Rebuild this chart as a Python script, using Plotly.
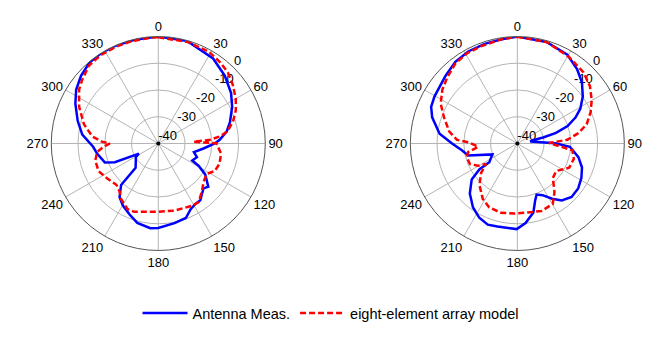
import plotly.graph_objects as go

# left pattern (angle in degrees, level in dB)
left_meas_theta = [0, 15.9, 32.8, 44.4, 55.3, 63.7, 73.7, 79.9, 86.6, 90, 96.3, 103.5, 109.5, 116.7,
                   119.0, 123.4, 130.8, 134.8, 143.5, 148.4, 153.8, 159.7, 168.5, 180, 185.4, 194.8,
                   202.2, 209.7, 215.9, 221.9, 223.1, 238.8, 242.3, 246.6, 250.5, 260.6, 267.1, 276.6,
                   285.7, 295.7, 303.2, 311.2, 319.6, 327.8, 336.2, 347.0, 360]
left_meas_db = [0, -0.2, -2.2, -4.5, -6.9, -9.2, -12.1, -14.0, -17.0, -18.9, -23.0, -26.3, -24.7, -25.8,
                -22.7, -19.0, -15.3, -16.2, -13.6, -13.5, -12.6, -10.3, -9.6, -8.4, -8.2, -9.3,
                -11.4, -13.3, -15.3, -19.2, -27.6, -30.2, -31.8, -22.3, -18.8, -16.8, -15.6, -11.4,
                -8.7, -5.6, -3.3, -1.6, -0.3, 0, -0.1, -0.2, 0]

left_model_theta = [0, 16.0, 28.6, 36.9, 44.3, 51.6, 59.8, 66.9, 73.3, 80.1, 83.5, 85.9, 87.3, 89.8,
                    99.2, 108.4, 115.9, 122.0, 129.9, 137.9, 145.5, 151.4, 166.5, 180, 199.5, 205.0,
                    213.9, 218.7, 225.4, 236.3, 245.2, 254.8, 262.1, 266.6, 270, 271.9, 276.1, 284.5,
                    294.8, 304.2, 310.3, 318.4, 326.7, 335.9, 345.1, 355.7, 360]
left_model_db = [-0.3, -0.5, -0.8, -1.8, -2.8, -4.5, -6.5, -8.5, -10.8, -13.7, -16.9, -20.6, -26.8, -18.3,
                 -16.2, -15.9, -16.5, -18.6, -17.9, -15.7, -13.4, -13.5, -14.2, -14.5, -12.9, -12.9,
                 -15.0, -16.9, -18.0, -16.8, -15.4, -15.6, -16.9, -19.5, -21.9, -18.9, -15.2, -11.3,
                 -7.4, -4.2, -2.8, -1.0, -0.6, -0.5, -0.5, -0.3, -0.3]

# right pattern
right_meas_theta = [0, 16.0, 29.4, 38.7, 46.7, 54.4, 61.1, 65.8, 70.8, 74.7, 76.9, 78.3, 81.8, 89.7, 93.6,
                    102.6, 110.4, 118.3, 126.5, 134.6, 142.0, 147.8, 154.0, 159.3, 162.6, 166.9, 174.1,
                    180.4, 193.5, 200.0, 207.1, 214.7, 223.5, 231.8, 235.7, 236.1, 246.3, 256.3, 263.1,
                    270, 277.2, 287.1, 293.0, 299.5, 305.4, 313.4, 322.8, 331.9, 341.8, 350.9, 360]
right_meas_db = [0, -0.5, -1.9, -4.3, -6.8, -9.9, -13.1, -16.1, -20.1, -25.0, -30.1, -34.4, -35.1, -25.8, -20.3,
                 -16.6, -14.2, -12.8, -11.7, -11.5, -13.0, -15.6, -18.5, -19.6, -17.7, -13.5, -10.1,
                 -8.0, -8.1, -7.7, -8.8, -10.9, -14.2, -18.3, -22.9, -27.4, -29.8, -21.1, -19.1,
                 -15.6, -10.7, -6.7, -5.0, -4.4, -4.1, -3.1, -1.7, -1.0, -0.8, -0.6, 0]

right_model_theta = [0, 16.0, 30.8, 43.0, 51.7, 59.7, 66.9, 74.5, 80.3, 85.8, 89.0, 97.0, 105.2, 115.0,
                     125.3, 134.1, 142.5, 149.6, 160.2, 172.0, 182.6, 193.6, 203.7, 212.0, 222.4, 231.0,
                     236.7, 240.4, 246.6, 254.8, 260.2, 265.2, 271.5, 273.4, 280.2, 289.6, 297.5, 305.7,
                     313.3, 322.2, 330.7, 339.7, 350.9, 360]
right_model_db = [-0.1, -0.5, -2.3, -3.7, -5.4, -7.8, -10.2, -13.1, -16.8, -21.3, -28.2, -19.3, -18.1, -18.6,
                  -22.2, -21.5, -17.2, -13.8, -13.2, -13.9, -13.8, -13.4, -13.9, -15.6, -19.0, -22.6,
                  -26.0, -23.1, -20.7, -20.4, -21.4, -25.3, -21.7, -17.4, -14.1, -10.9, -7.7, -5.5,
                  -4.0, -2.2, -1.4, -1.2, -0.6, -0.1]

angle_ticks = list(range(0, 360, 30))
db_ticks = [-40, -30, -20, -10, 0]
db_labels = ["-40", "-30", "-20", "-10", "0"]
db_label_angle = 45

FONT = "Liberation Sans, Arial, sans-serif"
BLUE = "#0000ff"
RED = "#ff0000"

fig = go.Figure()

for sub, (mt, md, et, ed) in enumerate([
        (left_meas_theta, left_meas_db, left_model_theta, left_model_db),
        (right_meas_theta, right_meas_db, right_model_theta, right_model_db)]):
    pname = "polar" if sub == 0 else "polar2"
    # dB labels sit on the 45 deg line, matlab-style (drawn first so the curves go over them)
    fig.add_trace(go.Scatterpolar(
        theta=[db_label_angle] * len(db_ticks), r=db_ticks, mode="text", text=db_labels,
        textposition="top right", subplot=pname, showlegend=False, hoverinfo="skip",
        textfont=dict(size=13, color="black", family=FONT), cliponaxis=False))
    # centre dot
    fig.add_trace(go.Scatterpolar(
        theta=[0], r=[db_ticks[0]], mode="markers", subplot=pname, showlegend=False,
        marker=dict(color="black", size=4), hoverinfo="skip"))
    fig.add_trace(go.Scatterpolar(
        theta=mt, r=md, mode="lines", name="Antenna Meas.", subplot=pname,
        line=dict(color=BLUE, width=2.5), showlegend=(sub == 0), legendgroup="meas"))
    fig.add_trace(go.Scatterpolar(
        theta=et, r=ed, mode="lines", name="eight-element array model", subplot=pname,
        line=dict(color=RED, width=2.5, dash="6px,3px"), showlegend=(sub == 0), legendgroup="model"))

polar_style = dict(
    bgcolor="white",
    angularaxis=dict(
        rotation=90, direction="clockwise",
        tickmode="array", tickvals=angle_ticks, ticktext=[str(a) for a in angle_ticks],
        ticks="", showline=True, linecolor="#555555", linewidth=1,
        gridcolor="#b4b4b4", gridwidth=0.8,
        tickfont=dict(size=13, color="black", family=FONT),
    ),
    radialaxis=dict(
        range=[-40, 0], tickmode="array", tickvals=db_ticks,
        ticks="", showline=False, showticklabels=False, angle=45,
        gridcolor="#b4b4b4", gridwidth=0.8,
    ),
)

# page body adds an 8px offset, domains are shifted to compensate
fig.update_layout(
    width=665, height=340,
    margin=dict(l=0, r=0, t=0, b=0),
    paper_bgcolor="white",
    font=dict(family=FONT, color="black"),
    polar=dict(domain=dict(x=[0.0651, 0.3869], y=[0.2868, 0.9162]), **polar_style),
    polar2=dict(domain=dict(x=[0.6050, 0.9268], y=[0.2868, 0.9162]), **polar_style),
    legend=dict(orientation="h", x=0.485, xanchor="center", y=0.103, yanchor="middle",
                font=dict(size=14.5, family=FONT), itemwidth=45, bgcolor="rgba(0,0,0,0)",
                traceorder="normal"),
)

fig.write_html("out.html")
